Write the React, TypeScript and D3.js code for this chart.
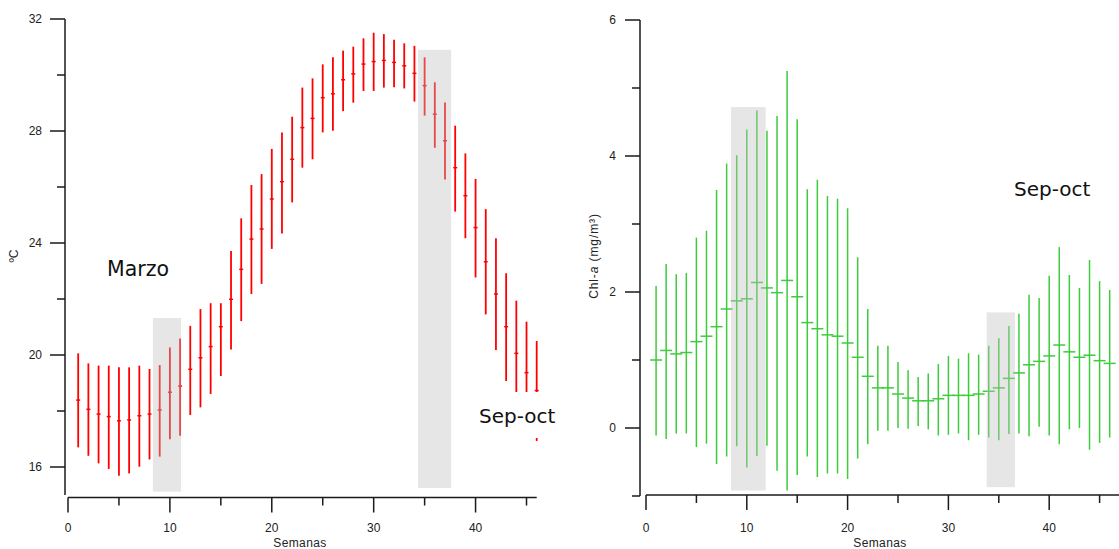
import React from "react";
import * as d3 from "d3";

const W = 1119, H = 549;

const weeks = [1,2,3,4,5,6,7,8,9,10,11,12,13,14,15,16,17,18,19,20,21,22,23,24,25,26,27,28,29,30,31,32,33,34,35,36,37,38,39,40,41,42,43,44,45,46];

// temperatura (ºC)
const tempMean = [18.39,18.06,17.89,17.80,17.65,17.68,17.83,17.89,18.04,18.67,18.89,19.49,19.90,20.30,21.01,21.99,23.06,24.14,24.50,25.57,26.19,26.99,28.12,28.45,29.19,29.33,29.83,30.04,30.39,30.48,30.52,30.45,30.33,30.06,29.62,28.60,27.65,26.69,25.69,24.55,23.33,22.18,21.01,20.06,19.37,18.73];
const tempHigh = [20.06,19.70,19.62,19.62,19.56,19.56,19.62,19.50,19.64,20.27,20.59,21.04,21.64,21.85,21.85,23.71,24.88,26.07,26.46,27.36,27.95,28.51,29.55,29.88,30.38,30.63,30.87,31.01,31.31,31.51,31.46,31.26,31.13,31.04,30.63,29.74,29.02,28.19,27.20,26.29,25.21,24.17,22.92,21.94,21.19,20.50];
const tempLow = [16.70,16.40,16.13,15.93,15.69,15.77,16.01,16.27,16.37,16.99,17.12,17.86,18.13,18.61,19.25,20.20,21.21,22.18,22.54,23.79,24.34,25.45,26.69,26.99,27.95,28.01,28.71,29.01,29.43,29.43,29.55,29.56,29.52,29.05,28.55,27.40,26.27,25.12,24.17,22.77,21.45,20.18,19.07,18.20,17.50,16.93];

// clorofila-a (mg/m3)
const chlMean = [1.00,1.14,1.09,1.11,1.27,1.35,1.49,1.75,1.87,1.90,2.14,2.06,1.99,2.17,1.93,1.55,1.46,1.37,1.35,1.25,1.04,0.76,0.59,0.59,0.50,0.44,0.40,0.40,0.43,0.48,0.48,0.48,0.50,0.54,0.59,0.73,0.81,0.93,0.98,1.06,1.22,1.12,1.04,1.07,0.99,0.95];
const chlHigh = [2.09,2.41,2.26,2.28,2.80,2.90,3.50,3.89,4.01,4.39,4.67,4.37,4.59,5.25,4.54,3.51,3.65,3.41,3.37,3.23,2.51,1.75,1.21,1.21,0.97,0.85,0.75,0.80,0.94,1.06,1.02,1.10,1.08,1.21,1.32,1.50,1.68,1.96,1.91,2.24,2.66,2.25,2.06,2.47,2.16,2.03];
const chlLow = [-0.11,-0.16,-0.08,-0.08,-0.28,-0.23,-0.53,-0.42,-0.27,-0.58,-0.41,-0.26,-0.63,-0.92,-0.69,-0.42,-0.72,-0.67,-0.67,-0.75,-0.45,-0.24,-0.04,-0.04,0.00,-0.01,0.03,-0.02,-0.11,-0.10,-0.08,-0.18,-0.10,-0.14,-0.18,-0.09,-0.08,-0.12,0.02,-0.11,-0.24,-0.02,0.00,-0.32,-0.22,-0.14];

// periodos sombreados [x0, x1, y0, y1]
const tempShade = [[8.33, 11.1, 15.12, 21.32], [34.35, 37.6, 15.25, 30.9]];
const chlShade = [[8.43, 11.87, -0.92, 4.72], [33.8, 36.6, -0.87, 1.70]];

const xMajor = [0, 10, 20, 30, 40];
const xMinor = [5, 15, 25, 35, 45];
const tempMajor = [16, 20, 24, 28, 32];
const tempMinor = [18, 22, 26, 30];
const chlMajor = [0, 2, 4, 6];
const chlMinor = [-1, 1, 3, 5];

const axisColor = "#1a1a1a";
const tickFont = "'Liberation Sans', Arial, sans-serif";
const noteFont = "'DejaVu Sans', sans-serif";

function Panel({ x, y, xAxisY, yAxisX, mean, high, low, shades, color, capW, barW, yMajor, yMinor, labelX, titleX }) {
  return (
    <g>
      {/* ejes */}
      <line x1={yAxisX} x2={yAxisX} y1={y.range()[1]} y2={y.range()[0]} stroke={axisColor} strokeWidth={1.5} />
      <line x1={x.range()[0]} x2={x.range()[1]} y1={xAxisY} y2={xAxisY} stroke={axisColor} strokeWidth={1.5} />
      {yMajor.map(v => (
        <g key={"ym" + v}>
          <line x1={yAxisX - 15} x2={yAxisX} y1={y(v)} y2={y(v)} stroke={axisColor} strokeWidth={1.5} />
          <text x={labelX} y={y(v)} dy="0.35em" textAnchor="end" fontFamily={tickFont} fontSize={12} fill="#222">{v}</text>
        </g>
      ))}
      {yMinor.map(v => (
        <line key={"yn" + v} x1={yAxisX - 8} x2={yAxisX} y1={y(v)} y2={y(v)} stroke={axisColor} strokeWidth={1.5} />
      ))}
      {xMajor.map(v => (
        <g key={"xm" + v}>
          <line x1={x(v)} x2={x(v)} y1={xAxisY} y2={xAxisY + 15} stroke={axisColor} strokeWidth={1.5} />
          <text x={x(v)} y={532} textAnchor="middle" fontFamily={tickFont} fontSize={12} fill="#222">{v}</text>
        </g>
      ))}
      {xMinor.map(v => (
        <line key={"xn" + v} x1={x(v)} x2={x(v)} y1={xAxisY} y2={xAxisY + 8} stroke={axisColor} strokeWidth={1.5} />
      ))}
      <text x={titleX} y={547} textAnchor="middle" fontFamily={tickFont} fontSize={12} letterSpacing={0.4} fill="#222">Semanas</text>

      {/* barras de error */}
      {weeks.map((w, i) => (
        <g key={"b" + w} stroke={color}>
          <line x1={x(w)} x2={x(w)} y1={y(high[i])} y2={y(low[i])} strokeWidth={barW} />
          <line x1={x(w) - capW} x2={x(w) + capW} y1={y(mean[i])} y2={y(mean[i])} strokeWidth={1.5} />
        </g>
      ))}

      {/* sombreado */}
      {shades.map((s, i) => (
        <rect key={"s" + i} x={x(s[0])} width={x(s[1]) - x(s[0])} y={y(s[3])} height={y(s[2]) - y(s[3])}
          fill="#bdbdbd" fillOpacity={0.38} />
      ))}
    </g>
  );
}

export default function App() {
  const xL = d3.scaleLinear().domain([0, 46]).range([68, 536.7]);
  const yL = d3.scaleLinear().domain([15, 32]).range([495, 19]);
  const xR = d3.scaleLinear().domain([0, 47]).range([646, 646 + 47 * 10.08]);
  const yR = d3.scaleLinear().domain([-1, 6]).range([496, 20]);

  return (
    <svg width={W} height={H} style={{ position: "absolute", left: 0, top: 0, background: "#fff" }}>
      <Panel x={xL} y={yL} xAxisY={497.5} yAxisX={65} mean={tempMean} high={tempHigh} low={tempLow}
        shades={tempShade} color="#ff0000" capW={2} barW={1.8} yMajor={tempMajor} yMinor={tempMinor} labelX={42} titleX={300} />
      <Panel x={xR} y={yR} xAxisY={495} yAxisX={640} mean={chlMean} high={chlHigh} low={chlLow}
        shades={chlShade} color="#3ccc3c" capW={6} barW={1.5} yMajor={chlMajor} yMinor={chlMinor} labelX={616} titleX={880} />

      <text transform="translate(18,256) rotate(-90)" textAnchor="middle" fontFamily={tickFont} fontSize={12} fill="#222">ºC</text>
      <text transform="translate(598,256) rotate(-90)" textAnchor="middle" fontFamily={tickFont} fontSize={12} letterSpacing={0.9} fill="#222">
        Chl-<tspan fontStyle="italic">a</tspan> (mg/m³)
      </text>

      <text x={107} y={276} fontFamily={noteFont} fontSize={20.5} fill="#111">Marzo</text>
      <rect x={472} y={392} width={90} height={46} fill="#fff" />
      <text x={479} y={423} fontFamily={noteFont} fontSize={20} fill="#111">Sep-oct</text>
      <text x={1014} y={196} fontFamily={noteFont} fontSize={20} fill="#111">Sep-oct</text>
    </svg>
  );
}
